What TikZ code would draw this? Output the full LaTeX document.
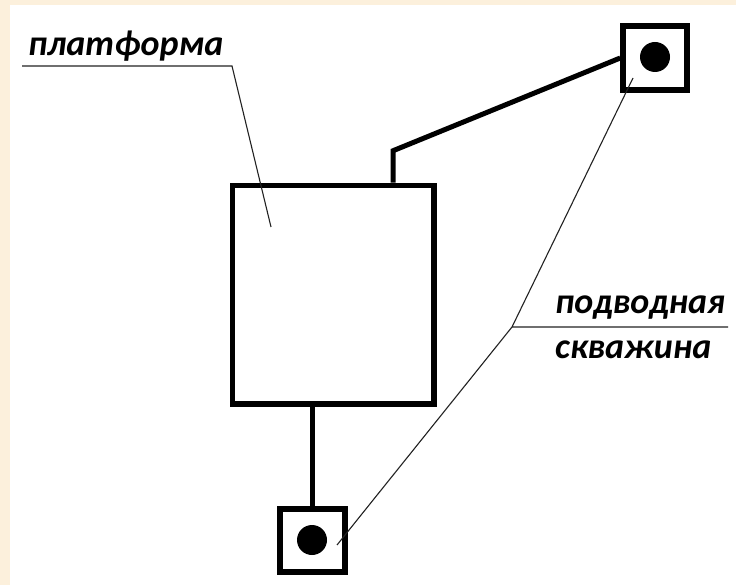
\documentclass[tikz,border=0pt]{standalone}
\usepackage{fontspec}
\setmainfont{Carlito}
\usetikzlibrary{calc}
\definecolor{peach}{HTML}{FCF0DC}
\definecolor{leadc}{HTML}{222222}
\begin{document}
\begin{tikzpicture}[x=1pt,y=-1pt,
  pipe/.style={line width=5pt},
  boxstyle/.style={draw, line width=5.5pt, rectangle, inner sep=0pt},
  leader/.style={draw=leadc, line width=1.1pt},
  lbl/.style={font=\bfseries\itshape\fontsize{36}{36}\selectfont, inner sep=0pt, anchor=base west}]
\useasboundingbox (0,0) rectangle (736,585);
\fill[peach] (0,0) rectangle (736,585);
\fill[white] (10,5) rectangle (736,585);
% platform
\node[boxstyle, minimum width=201.5pt, minimum height=218.5pt] (plat) at (333.25,294.75) {};
% wells
\node[boxstyle, minimum width=64pt, minimum height=64pt] (w1) at (655,58) {};
\node[boxstyle, minimum width=65pt, minimum height=63pt] (w2) at (312.5,540.5) {};
\fill (655,57) circle (15pt);
\fill (312,540) circle (15pt);
% pipes
\draw[pipe] (plat.north -| 393,0) -- ++(0,-32) coordinate (bend) -- (w1.west);
\draw[pipe] (plat.south -| w2.north) -- (w2.north);
% labels
\node[lbl] (tp) at (28,56) {платформа};
\node[lbl] (t1) at (555,313) {подводная};
\node[lbl] (t2) at (555,358) {скважина};
\coordinate (u1s) at (22,66);
\coordinate (u1e) at (232,66);
\coordinate (p1) at (271,227);
\draw[leader] (u1s) -- (u1e) -- (p1);
\coordinate (j) at (512,327);
\coordinate (u2e) at (728,327);
\coordinate (pa) at (633,78);
\coordinate (pb) at (337,545);
\draw[leader] (u2e) -- (j) -- (pa);
\draw[leader] (j) -- (pb);
\end{tikzpicture}
\end{document}
